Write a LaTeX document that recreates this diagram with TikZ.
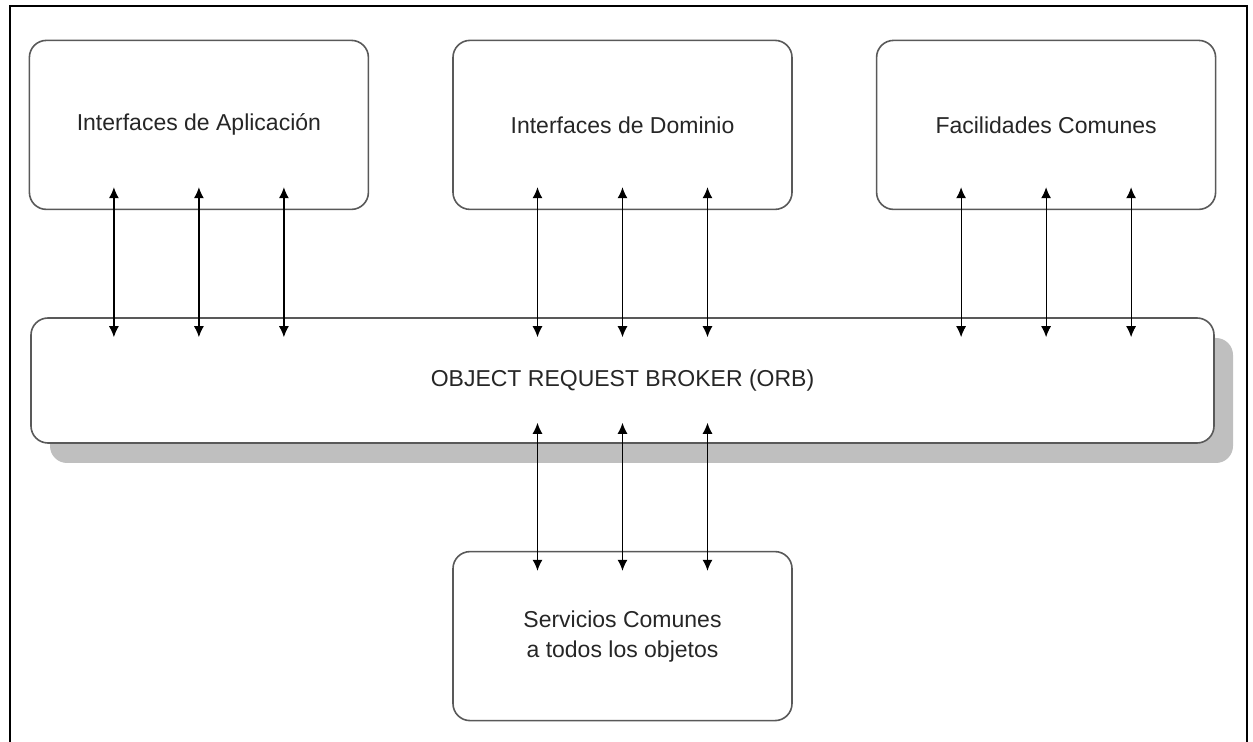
\documentclass[tikz,border=0pt]{standalone}
\usepackage{fontspec}
\setmainfont{Liberation Sans}
\usetikzlibrary{arrows.meta, positioning, shadows, calc}
\tikzstyle{block} = [draw=black!65, line width=0.8pt, fill=white, rectangle, rounded corners=8.5pt, minimum width=169.5pt, minimum height=84.5pt, text=black!85, font=\fontsize{11.5}{15}\selectfont, align=center]
\tikzstyle{link} = [{Latex[length=5.5pt,width=5pt]}-{Latex[length=5.5pt,width=5pt]}, line width=0.6pt]

\begin{document}
\begin{tikzpicture}[x=0.5pt, y=-0.5pt]
    \useasboundingbox (0,0) rectangle (1253,742);
    \draw[line width=1.3pt] (10,742) -- (10,6) -- (1247,6) -- (1247,742);
    \node[block, minimum width=591.5pt, minimum height=62.5pt, drop shadow={shadow xshift=9.5pt, shadow yshift=-10pt, opacity=1, fill=black!25}] (orb) at (622.5,380.5) {OBJECT REQUEST BROKER (ORB)};
    \node[block, above=53.5pt of orb] (dom) {Interfaces de Dominio};
    \node[block, left=41.5pt of dom] (app) {Interfaces de Aplicaci\'on};
    \node[block, right=41.5pt of dom] (fac) {Facilidades Comunes};
    \node[block, below=53.5pt of orb] (srv) {Servicios Comunes\\a todos los objetos};
    \foreach \blk in {app, dom, fac}
        \foreach \dx in {-85, 0, 85}
            \draw[link] ($(\blk.south)+(\dx,-23)$) -- ($(\blk.south |- orb.north)+(\dx,20)$);
    \foreach \dx in {-85, 0, 85}
        \draw[link] ($(orb.south)+(\dx,-21)$) -- ($(srv.north)+(\dx,20)$);
\end{tikzpicture}
\end{document}
